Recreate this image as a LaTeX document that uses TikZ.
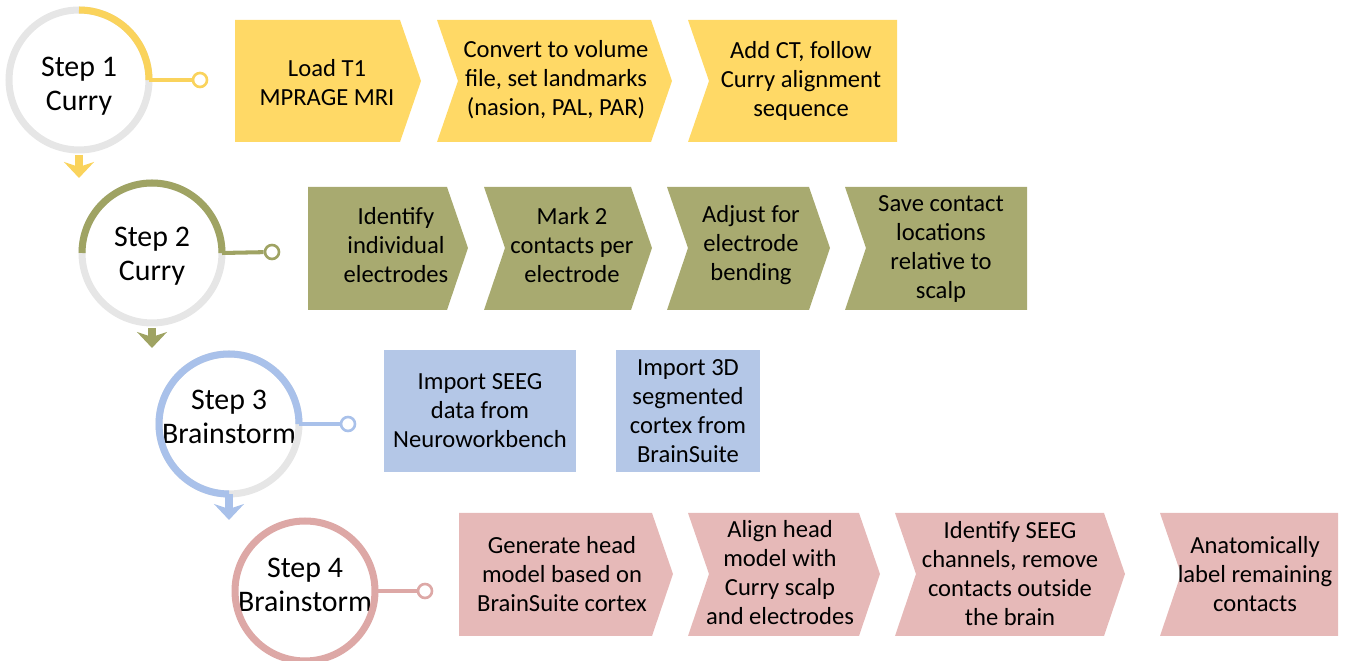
\documentclass[tikz,border=0pt]{standalone}
\usepackage{fontspec}
\setmainfont{Carlito}
\usetikzlibrary{arrows.meta}

\definecolor{yelfill}{HTML}{FFD966}
\definecolor{yelarc}{HTML}{FAD35C}
\definecolor{grnfill}{HTML}{A8AA70}
\definecolor{grnarc}{HTML}{9FA363}
\definecolor{bluefill}{HTML}{B4C7E7}
\definecolor{bluearc}{HTML}{A9C1EA}
\definecolor{pinkfill}{HTML}{E6B9B8}
\definecolor{pinkarc}{HTML}{DDA8A6}
\definecolor{arcgray}{HTML}{E6E6E6}

\tikzset{
  stepnode/.style={circle, minimum size=2.8cm, inner sep=0pt, outer sep=0pt},
  steptext/.style={align=center, inner sep=0pt, font=\fontsize{17}{19.5}\selectfont},
  ring/.style={draw=#1, line width=4pt},
  dotnode/.style={circle, draw=#1, fill=white, line width=1.5pt, minimum size=0.28cm, inner sep=0pt},
  boxtext/.style={align=center, inner sep=0pt, font=\fontsize{14}{16.5}\selectfont},
  link/.style={draw=#1, line width=2.3pt},
  downarrow/.style={draw=#1, line width=0.16cm, -{Stealth[length=0.32cm, width=0.6cm, inset=0.1cm]}},
}

\begin{document}
\begin{tikzpicture}[x=0.02cm, y=-0.02cm]
    \useasboundingbox (0,0) rectangle (1347,661);

    % step circles
    \node[stepnode] (s1) at (79, 80) {};
    \node[stepnode] (s2) at (152, 253) {};
    \node[stepnode] (s3) at (229, 424) {};
    \node[stepnode] (s4) at (305, 591) {};
    \node[steptext] (t1) at (79, 86) {Step 1\\Curry};
    \node[steptext] (t2) at (152, 256) {Step 2\\Curry};
    \node[steptext] (t3) at (229, 417) {Step 3\\Brainstorm};
    \node[steptext] (t4) at (305, 585) {Step 4\\Brainstorm};

    \draw[ring=arcgray] (s1.center) circle[radius=1.4cm];
    \draw[ring=arcgray] (s2.center) circle[radius=1.4cm];
    \draw[ring=arcgray] (s3.center) circle[radius=1.4cm];
    \draw[ring=pinkarc] (s4.center) circle[radius=1.4cm];
    \draw[ring=yelarc] (s1.center) ++(90:1.4cm) arc[start angle=90, end angle=0, radius=1.4cm];
    \draw[ring=grnarc] (s2.center) ++(180:1.4cm) arc[start angle=180, end angle=0, radius=1.4cm];
    \draw[ring=bluearc] (s3.center) ++(0:1.4cm) arc[start angle=0, end angle=270, radius=1.4cm];

    % dots at the end of the links
    \node[dotnode=yelarc] (d1) at (200, 80) {};
    \node[dotnode=grnarc] (d2) at (272, 252) {};
    \node[dotnode=bluearc] (d3) at (348, 424) {};
    \node[dotnode=pinkarc] (d4) at (425, 591) {};

    \draw[link=yelarc] (s1.east) -- (d1);
    \draw[link=grnarc] (s2.east) -- (d2);
    \draw[link=bluearc] (s3.east) -- (d3);
    \draw[link=pinkarc] (s4.east) -- (d4);

    % arrows down to the next step
    \draw[downarrow=yelarc, shorten <=0.1cm] (s1.south) -- ++(0, 28);
    \draw[downarrow=grnarc, shorten <=0.1cm] (s2.south) -- ++(0, 25);
    \draw[downarrow=bluearc] (s3.south) -- ++(0, 26);

    % row 1
    \fill[yelfill] (235,20) -- (400,20) -- (421,81) -- (400,142) -- (235,142) -- cycle;
    \fill[yelfill] (437,20) -- (651,20) -- (672,81) -- (651,142) -- (437,142) -- (458,81) -- cycle;
    \fill[yelfill] (688,20) -- (897,20) -- (897,142) -- (688,142) -- (709,81) -- cycle;
    \node[boxtext] (y1) at (327, 83) {Load T1\\MPRAGE MRI};
    \node[boxtext] (y2) at (556, 80) {Convert to volume\\file, set landmarks\\(nasion, PAL, PAR)};
    \node[boxtext] (y3) at (801, 81) {Add CT, follow\\Curry alignment\\sequence};

    % row 2
    \fill[grnfill] (308,187) -- (447,187) -- (468,248) -- (447,310) -- (308,310) -- cycle;
    \fill[grnfill] (484,187) -- (631,187) -- (652,248) -- (631,310) -- (484,310) -- (505,248) -- cycle;
    \fill[grnfill] (667,187) -- (809,187) -- (830,248) -- (809,310) -- (667,310) -- (688,248) -- cycle;
    \fill[grnfill] (845,187) -- (1027,187) -- (1027,310) -- (845,310) -- (866,248) -- cycle;
    \node[boxtext] (g1) at (396, 245) {Identify\\individual\\electrodes};
    \node[boxtext] (g2) at (572, 245) {Mark 2\\contacts per\\electrode};
    \node[boxtext] (g3) at (751, 245) {Adjust for\\electrode\\bending};
    \node[boxtext] (g4) at (941, 249) {Save contact\\locations\\relative to\\scalp};

    % row 3
    \node[boxtext, fill=bluefill, minimum width=3.86cm, minimum height=2.46cm] (b1) at (480, 411) {Import SEEG\\data from\\Neuroworkbench};
    \node[boxtext, fill=bluefill, minimum width=2.9cm, minimum height=2.46cm] (b2) at (688, 411) {Import 3D\\segmented\\cortex from\\BrainSuite};

    % row 4
    \fill[pinkfill] (459,513) -- (652,513) -- (673,574) -- (652,636) -- (459,636) -- cycle;
    \fill[pinkfill] (688,513) -- (859,513) -- (880,574) -- (859,636) -- (688,636) -- (709,574) -- cycle;
    \fill[pinkfill] (895,513) -- (1104,513) -- (1125,574) -- (1104,636) -- (895,636) -- (916,574) -- cycle;
    \fill[pinkfill] (1160,513) -- (1338,513) -- (1338,636) -- (1160,636) -- (1181,574) -- cycle;
    \node[boxtext] (p1) at (562, 574) {Generate head\\model based on\\BrainSuite cortex};
    \node[boxtext] (p2) at (780, 573) {Align head\\model with\\Curry scalp\\and electrodes};
    \node[boxtext] (p3) at (1010, 574) {Identify SEEG\\channels, remove\\contacts outside\\the brain};
    \node[boxtext] (p4) at (1255, 574) {Anatomically\\label remaining\\contacts};

\end{tikzpicture}
\end{document}
